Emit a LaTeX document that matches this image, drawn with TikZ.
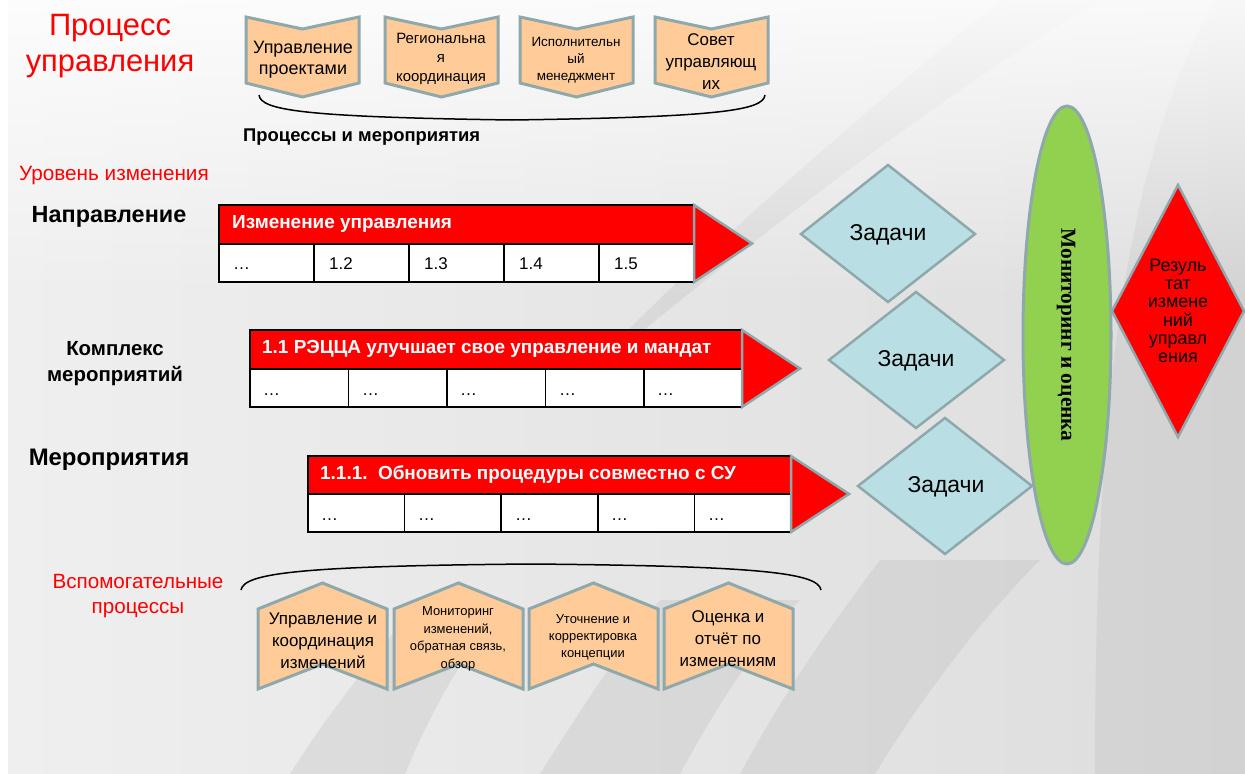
\documentclass[tikz,border=0pt]{standalone}
\usepackage{fontspec}
\setmainfont{Liberation Sans}
\newfontfamily\serifbold{Liberation Serif}
\usetikzlibrary{fadings}
\definecolor{peach}{HTML}{FFCC99}
\definecolor{edgegray}{HTML}{8EA8AB}
\definecolor{lblue}{HTML}{B9DFE4}
\definecolor{lgreen}{HTML}{92D050}
\definecolor{myred}{HTML}{FF0000}
\definecolor{bgl}{HTML}{EFEFF0}
\definecolor{bgr}{HTML}{DDDDDD}
\definecolor{swgray}{HTML}{B8B8B8}
\tikzfading[name=fadedown, top color=transparent!0, bottom color=transparent!100]
\begin{document}
\begin{tikzpicture}[x=1bp,y=-1bp,
  chev/.style={fill=peach, draw=edgegray, line width=3bp, line join=miter},
  dia/.style={fill=lblue, draw=edgegray, line width=2.5bp, line join=miter},
  tri/.style={fill=myred, draw=edgegray, line width=2.5bp, line join=miter},
  barline/.style={draw=black, line width=1.5bp},
  txt/.style={align=center, inner sep=0pt},
  headtxt/.style={anchor=west, inner sep=0pt, text=white, font=\bfseries\fontsize{19}{21}\selectfont},
  celltxt/.style={anchor=base west, inner sep=0pt, font=\fontsize{17}{20}\selectfont},
  swoosh/.style={fill=swgray, opacity=0.28},
  brace/.style={draw=black, line width=1.5bp}]
\useasboundingbox (0,0) rectangle (1245,774);
% background
\fill[white] (0,0) rectangle (1245,774);
\shade[left color=bgl, right color=bgr] (8,0) rectangle (1245,774);
\fill[swoosh] (1000,0) -- (1100,0) .. controls (950,90) and (760,230) .. (560,400) .. controls (700,250) and (880,100) .. (1000,0) -- cycle;
\fill[swoosh] (1215,0) -- (1245,0) -- (1245,774) -- (1095,774) .. controls (1095,420) and (1120,170) .. (1215,0) -- cycle;
\fill[swoosh] (290,774) -- (405,774) .. controls (440,690) and (480,630) .. (510,600) -- (420,600) .. controls (380,650) and (330,710) .. (290,774) -- cycle;
\fill[swoosh] (540,774) -- (680,774) .. controls (720,700) and (760,640) .. (800,600) -- (660,600) .. controls (620,650) and (580,710) .. (540,774) -- cycle;
\fill[swoosh] (740,774) -- (875,774) .. controls (920,700) and (980,620) .. (1040,560) -- (880,560) .. controls (820,640) and (780,700) .. (740,774) -- cycle;
\fill[white, path fading=fadedown, opacity=0.85] (0,0) rectangle (1245,300);
\fill[white] (0,0) rectangle (8,774);

% title
\node[txt, text=myred, font=\fontsize{31}{36}\selectfont] (title) at (110,46) {Процесс\\управления};

% top chevrons
\foreach \l in {246,385,520,655}
  \draw[chev] (\l,17) -- (\l+56.5,29) -- (\l+113,17) -- (\l+113,83) -- (\l+56.5,97) -- (\l,83) -- cycle;
\node[txt, font=\fontsize{18}{21}\selectfont] (tc1) at (303,60) {Управление\\проектами};
\node[txt, font=\fontsize{15}{19}\selectfont] (tc2) at (441,59) {Региональна\\я\\координация};
\node[txt, font=\fontsize{13.5}{17}\selectfont] (tc3) at (576,60) {Исполнительн\\ый\\менеджмент};
\node[txt, font=\fontsize{17}{22}\selectfont] (tc4) at (711,62) {Совет\\управляющ\\их};
\draw[brace] (259,95) .. controls (261,110) and (300,117) .. (512,120) .. controls (724,117) and (763,110) .. (765,95);
\node[anchor=west, inner sep=0pt, font=\bfseries\fontsize{18.5}{21}\selectfont] (proc) at (243,137) {Процессы и мероприятия};

% left labels
\node[inner sep=0pt, text=myred, font=\fontsize{20.8}{24}\selectfont] (lvl) at (114,176) {Уровень изменения};
\node[inner sep=0pt, font=\bfseries\fontsize{23.5}{26}\selectfont] (dir) at (109,217) {Направление};
\node[txt, font=\bfseries\fontsize{20.5}{26}\selectfont] (kompl) at (115,364) {Комплекс\\мероприятий};
\node[inner sep=0pt, font=\bfseries\fontsize{24}{26}\selectfont] (mer) at (109,460) {Мероприятия};
\node[txt, text=myred, font=\fontsize{20.7}{25}\selectfont] (vsp) at (138,596) {Вспомогательные\\процессы};

% bar 1
\fill[myred] (219,205) rectangle (694,244);
\fill[white] (219,244) rectangle (694,282);
\draw[barline] (219,205) rectangle (694,282);
\draw[barline] (219,244) -- (694,244);
\foreach \x in {314,409,504,599} \draw[barline] (\x,244) -- (\x,282);
\draw[tri] (694,205) -- (752,243.5) -- (694,282) -- cycle;
\node[headtxt] (h1) at (232,224) {Изменение управления};
\node[celltxt] (b11) at (233,269) {…};
\node[celltxt] (b12) at (329,269) {1.2};
\node[celltxt] (b13) at (424,269) {1.3};
\node[celltxt] (b14) at (519,269) {1.4};
\node[celltxt] (b15) at (614,269) {1.5};

% bar 2
\fill[myred] (250,330) rectangle (742,369);
\fill[white] (250,369) rectangle (742,407);
\draw[barline] (250,330) rectangle (742,407);
\draw[barline] (250,369) -- (742,369);
\foreach \x in {348.5,447,545.5,644} \draw[barline] (\x,369) -- (\x,407);
\draw[tri] (742,330) -- (800,368.5) -- (742,407) -- cycle;
\node[headtxt] (h2) at (262,349) {1.1 РЭЦЦА улучшает свое управление и мандат};
\node[celltxt] (b21) at (263,395) {…};
\node[celltxt] (b22) at (362,395) {…};
\node[celltxt] (b23) at (460,395) {…};
\node[celltxt] (b24) at (559,395) {…};
\node[celltxt] (b25) at (657,395) {…};

% bar 3
\fill[myred] (308,456) rectangle (791,494);
\fill[white] (308,494) rectangle (791,532);
\draw[barline] (308,456) rectangle (791,532);
\draw[barline] (308,494) -- (791,494);
\foreach \x in {404.6,501.2,597.8,694.4} \draw[barline] (\x,494) -- (\x,532);
\draw[tri] (791,456) -- (849,494) -- (791,532) -- cycle;
\node[headtxt] (h3) at (320,475) {1.1.1.\ \ Обновить процедуры совместно с СУ};
\node[celltxt] (b31) at (321,520) {…};
\node[celltxt] (b32) at (418,520) {…};
\node[celltxt] (b33) at (515,520) {…};
\node[celltxt] (b34) at (611,520) {…};
\node[celltxt] (b35) at (708,520) {…};

% diamonds
\draw[dia] (801,234) -- (888,165) -- (975,234) -- (888,302) -- cycle;
\draw[dia] (829,360) -- (916,292) -- (1004,360) -- (916,428) -- cycle;
\draw[dia] (858,486) -- (945,418) -- (1032,486) -- (945,554) -- cycle;
\node[inner sep=0pt, font=\fontsize{23}{26}\selectfont] (d1) at (888,235) {Задачи};
\node[inner sep=0pt, font=\fontsize{23}{26}\selectfont] (d2) at (916,361) {Задачи};
\node[inner sep=0pt, font=\fontsize{23}{26}\selectfont] (d3) at (946,487) {Задачи};

% ellipse
\draw[fill=lgreen, draw=edgegray, line width=3bp] (1067,335) ellipse [x radius=44, y radius=229];
\node[rotate=-90, inner sep=0pt, font=\serifbold\bfseries\fontsize{21.5}{24}\selectfont] (mon) at (1066,335) {Мониторинг и оценка};

% result diamond
\draw[tri] (1112,311) -- (1178,185) -- (1244,311) -- (1178,437) -- cycle;
\node[txt, font=\fontsize{18}{18.4}\selectfont] (res) at (1178,311) {Резуль\\тат\\измене\\ний\\управл\\ения};

% bottom
\draw[brace] (241,590) .. controls (244,573) and (300,566) .. (531,564) .. controls (762,566) and (818,573) .. (821,590);
\foreach \l in {258,394,529,664}
  \draw[chev] (\l,609) -- (\l+64.5,583) -- (\l+129,609) -- (\l+129,689) -- (\l+64.5,664) -- (\l,689) -- cycle;
\node[txt, font=\fontsize{17}{22}\selectfont] (bc1) at (323,641) {Управление и\\координация\\изменений};
\node[txt, font=\fontsize{13}{17.5}\selectfont] (bc2) at (458,639) {Мониторинг\\изменений,\\обратная связь,\\обзор};
\node[txt, font=\fontsize{13}{17}\selectfont] (bc3) at (593,637) {Уточнение и\\корректировка\\концепции};
\node[txt, font=\fontsize{17}{22}\selectfont] (bc4) at (728,639) {Оценка и\\отчёт по\\изменениям};
\end{tikzpicture}
\end{document}
